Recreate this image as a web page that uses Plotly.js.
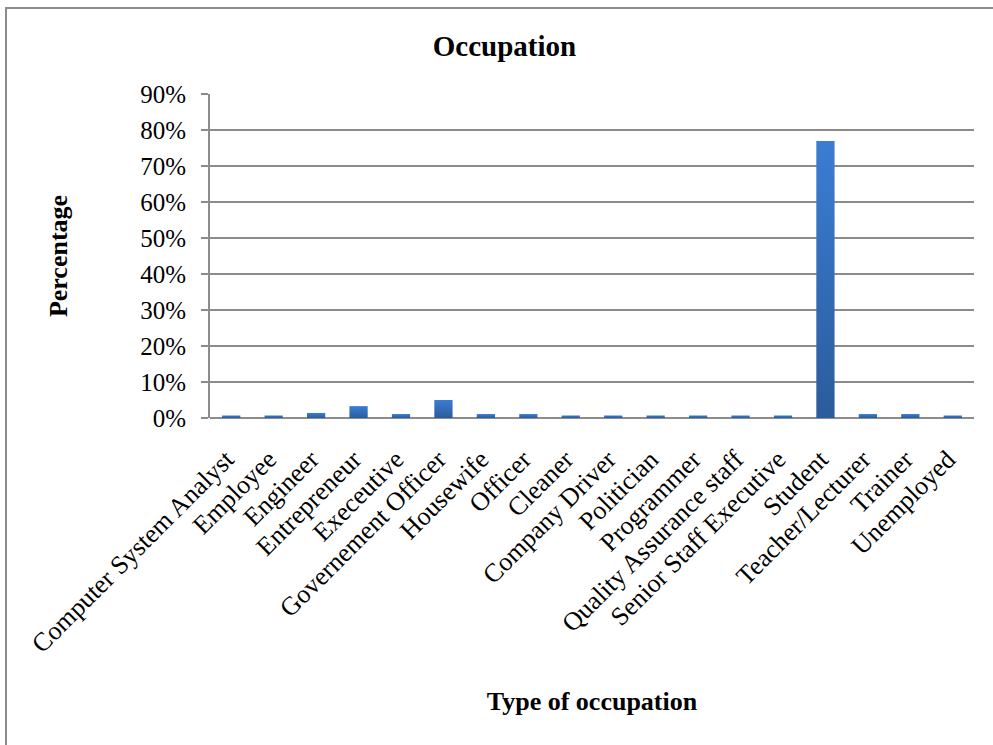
<!DOCTYPE html>
<html>
<head>
<meta charset="utf-8">
<script src="https://cdn.plot.ly/plotly-3.0.1.min.js"></script>
<style>
  html, body { margin: 0; padding: 0; background: #fff; overflow: hidden; }
  #frame { position: absolute; left: 5px; top: 7px; width: 1000px; height: 760px;
           border-left: 2px solid #8c8c8c; border-top: 2px solid #8c8c8c; }
  #chart { position: absolute; left: 0; top: 0; width: 993px; height: 745px; }
</style>
</head>
<body>
<div id="frame"></div>
<div id="chart"></div>
<script>
// Occupation categories and share of respondents (%)
const occupations = [
  "Computer System Analyst", "Employee", "Engineer", "Entrepreneur", "Execeutive",
  "Governement Officer", "Housewife", "Officer", "Cleaner", "Company Driver",
  "Politician", "Programmer", "Quality Assurance staff", "Senior Staff Executive",
  "Student", "Teacher/Lecturer", "Trainer", "Unemployed"
];
const percentages = [
  0.7, 0.7, 1.4, 3.3, 1.1,
  5.0, 1.1, 1.1, 0.7, 0.7,
  0.7, 0.7, 0.7, 0.7,
  77.0, 1.1, 1.1, 0.7
];
const yTickValues = [0, 10, 20, 30, 40, 50, 60, 70, 80, 90];
const yTickLabels = ["0%", "10%", "20%", "30%", "40%", "50%", "60%", "70%", "80%", "90%"];

const serif = "Liberation Serif, Times New Roman, serif";

const trace = {
  type: "bar",
  x: occupations,
  y: percentages,
  marker: { color: "#3370bf", line: { width: 0 } },
  hoverinfo: "x+y"
};

const layout = {
  width: 993,
  height: 745,
  margin: { l: 210, r: 19, t: 94, b: 327 },
  paper_bgcolor: "rgba(0,0,0,0)",
  plot_bgcolor: "rgba(0,0,0,0)",
  bargap: 0.57,
  showlegend: false,
  font: { family: serif, color: "#000", size: 25 },
  title: {
    text: "<b>Occupation</b>",
    font: { family: serif, size: 29, color: "#000" },
    x: 0.508, xanchor: "center",
    y: 0.939, yanchor: "middle"
  },
  xaxis: {
    type: "category",
    tickangle: -45,
    tickfont: { family: serif, size: 26, color: "#000" },
    ticklabelstandoff: 20,
    ticklabelshift: -5,
    showgrid: false,
    showline: false,
    ticks: "",
    title: { text: "<b>Type of occupation</b>", font: { family: serif, size: 26, color: "#000" }, standoff: 34 },
    automargin: false
  },
  yaxis: {
    range: [0, 90.05],
    tickvals: yTickValues,
    ticktext: yTickLabels,
    tickfont: { family: serif, size: 25, color: "#000" },
    showgrid: true,
    gridcolor: "#8c8c8c",
    gridwidth: 2,
    zeroline: true,
    zerolinecolor: "#8c8c8c",
    zerolinewidth: 2,
    showline: true,
    linecolor: "#8c8c8c",
    linewidth: 2,
    ticks: "outside",
    ticklen: 7,
    tickwidth: 2,
    tickcolor: "#8c8c8c",
    ticklabelstandoff: 10,
    title: { text: "<b>Percentage</b>", font: { family: serif, size: 26, color: "#000" }, standoff: 65 },
    automargin: false
  }
};

Plotly.newPlot("chart", [trace], layout, { displayModeBar: false, staticPlot: true }).then(function (gd) {
  // vertical gradient on the bars: lighter at the top, darker at the base
  const svg = gd.querySelector(".main-svg");
  const ns = "http://www.w3.org/2000/svg";
  const defs = document.createElementNS(ns, "defs");
  const grad = document.createElementNS(ns, "linearGradient");
  grad.setAttribute("id", "barShade");
  grad.setAttribute("x1", "0"); grad.setAttribute("y1", "0");
  grad.setAttribute("x2", "0"); grad.setAttribute("y2", "1");
  [["0%", "#3b7dd3"], ["100%", "#2b5c9b"]].forEach(function (s) {
    const st = document.createElementNS(ns, "stop");
    st.setAttribute("offset", s[0]);
    st.setAttribute("stop-color", s[1]);
    grad.appendChild(st);
  });
  defs.appendChild(grad);
  svg.insertBefore(defs, svg.firstChild);
  gd.querySelectorAll(".bars .point path").forEach(function (p) {
    p.style.fill = "url(#barShade)";
  });
});
</script>
</body>
</html>
